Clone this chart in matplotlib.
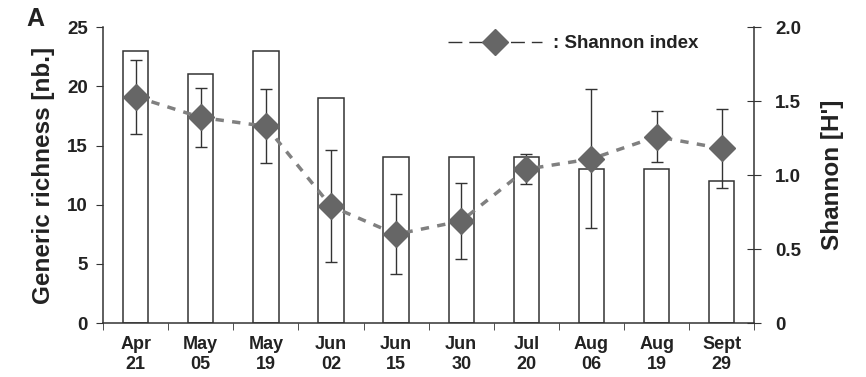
import matplotlib.pyplot as plt
import numpy as np
from matplotlib.lines import Line2D

plt.rcParams['font.family'] = ['Liberation Sans', 'DejaVu Sans']
plt.rcParams['font.weight'] = 'bold'

dates = ['Apr\n21', 'May\n05', 'May\n19', 'Jun\n02', 'Jun\n15',
         'Jun\n30', 'Jul\n20', 'Aug\n06', 'Aug\n19', 'Sept\n29']
richness = [23, 21, 23, 19, 14, 14, 14, 13, 13, 12]
shannon = [1.53, 1.39, 1.33, 0.79, 0.60, 0.69, 1.04, 1.11, 1.26, 1.18]
shannon_err = [0.25, 0.20, 0.25, 0.38, 0.27, 0.26, 0.10, 0.47, 0.17, 0.27]

text_col = '#222222'
x = np.arange(len(dates))

fig = plt.figure(figsize=(8.66, 3.77), dpi=100)
ax = fig.add_axes([0.119, 0.143, 0.752, 0.785])

ax.bar(x, richness, width=0.39, facecolor='white', edgecolor='#333333',
       linewidth=1.1, zorder=1)
ax.set_xlim(-0.5, len(dates) - 0.5)
ax.set_ylim(0, 25)
ax.set_yticks([0, 5, 10, 15, 20, 25])
ax.set_xticks(x)
ax.set_xticklabels(dates, fontsize=13, fontweight='bold', color=text_col,
                   linespacing=1.25)
ax.set_xticks(np.arange(len(dates) + 1) - 0.5, minor=True)
ax.tick_params(axis='x', which='major', length=0, pad=9)
ax.tick_params(axis='x', which='minor', length=5, direction='out',
               color='#333333')
ax.tick_params(axis='y', length=5, direction='out', color='#333333',
               labelsize=13.5, labelcolor=text_col, pad=6)
ax.set_ylabel('Generic richness [nb.]', fontsize=17.5, fontweight='bold',
              color=text_col, labelpad=9)
ax.spines['top'].set_visible(False)
ax.spines['right'].set_visible(False)
for s in ['left', 'bottom']:
    ax.spines[s].set_color('#333333')
    ax.spines[s].set_linewidth(1.1)

# Shannon index on the secondary axis
ax2 = ax.twinx()
ax2.set_ylim(0, 2.0)
ax2.set_yticks([0, 0.5, 1.0, 1.5, 2.0])
ax2.set_yticklabels(['0', '0.5', '1.0', '1.5', '2.0'])
ax2.tick_params(axis='y', length=10, direction='inout', color='#333333',
                labelsize=13.5, labelcolor=text_col, pad=10)
ax2.set_ylabel("Shannon [H']", fontsize=17.5, fontweight='bold',
               color=text_col, labelpad=14)
for s in ['top', 'left', 'bottom']:
    ax2.spines[s].set_visible(False)
ax2.spines['right'].set_color('#333333')
ax2.spines['right'].set_linewidth(1.1)

ax2.errorbar(x, shannon, yerr=shannon_err, fmt='none', ecolor='#333333',
             elinewidth=1.0, capsize=4, capthick=1.0, zorder=3)
ax2.plot(x, shannon, linestyle=(0, (2.4, 2.4)), color='#808080', linewidth=2.5,
         zorder=2)
ax2.plot(x, shannon, linestyle='none', marker='D', markersize=13,
         color='#666666', markeredgecolor='#666666', zorder=4)

handle = Line2D([], [], color='#333333', linestyle=(0, (10, 5)), linewidth=1.0,
                marker='D', markersize=13, markerfacecolor='#666666',
                markeredgecolor='#666666')
ax2.legend([handle], [': Shannon index'], loc='upper right',
           bbox_to_anchor=(0.94, 1.03), frameon=False, handlelength=5.0,
           handletextpad=0.6, prop={'size': 13.5, 'weight': 'bold'},
           labelcolor=text_col)

fig.text(0.03, 0.93, 'A', fontsize=18, fontweight='bold', color=text_col)

fig.savefig('out.png', dpi=100)
